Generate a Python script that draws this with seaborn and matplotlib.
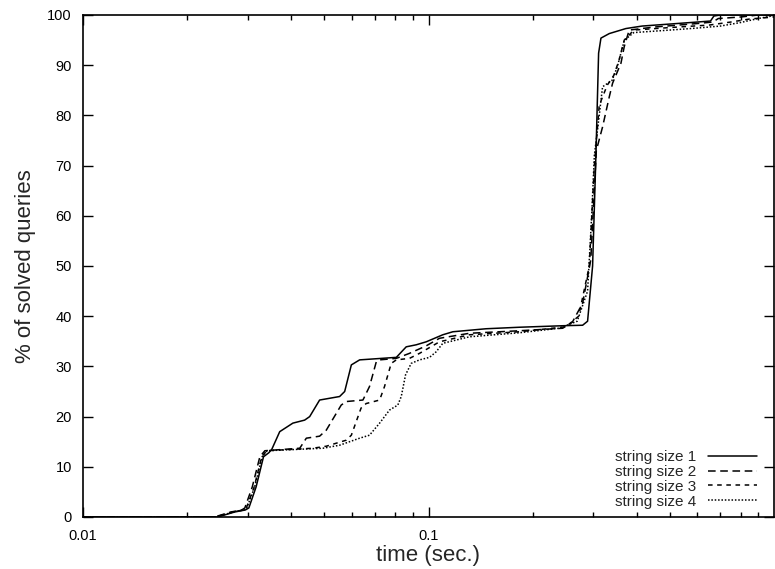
import matplotlib
matplotlib.use("Agg")
import matplotlib.pyplot as plt
import seaborn as sns
import pandas as pd
import numpy as np
from matplotlib.ticker import LogLocator, FixedLocator, NullFormatter, FixedFormatter

# ---- data ----
t1 = [0.010, 0.0245, 0.0275, 0.0295, 0.0302, 0.0317, 0.0333, 0.0345, 0.0352, 0.0371, 0.0405, 0.0438,
      0.0453, 0.0484, 0.0553, 0.0572, 0.0598, 0.0632, 0.0807, 0.0862, 0.0921, 0.0985, 0.110, 0.1176,
      0.1468, 0.1832, 0.2445, 0.2793, 0.2887, 0.2985, 0.3053, 0.3107, 0.3156, 0.3336, 0.3726, 0.4154,
      0.50, 0.60, 0.655, 0.67, 0.70, 1.0]
v1 = [0.0, 0.0, 1.0, 1.4, 1.8, 6.0, 12.0, 12.8, 13.5, 17.0, 18.7, 19.3,
      20.0, 23.3, 24.0, 25.0, 30.3, 31.3, 31.8, 33.9, 34.3, 34.9, 36.3, 36.9,
      37.5, 37.8, 38.1, 38.2, 39.0, 50.0, 72.4, 92.4, 95.4, 96.3, 97.3, 97.8,
      98.2, 98.6, 98.8, 99.8, 100.0, 100.0]

t2 = [0.010, 0.0240, 0.0268, 0.0288, 0.0294, 0.0309, 0.0325, 0.0336, 0.0424, 0.0443, 0.0484, 0.0506,
      0.0559, 0.0578, 0.0646, 0.0675, 0.0706, 0.0722, 0.0807, 0.0881, 0.0985, 0.1076, 0.1314, 0.1832,
      0.2445, 0.2608, 0.2793, 0.2949, 0.306, 0.319, 0.3336, 0.341, 0.3606, 0.3686, 0.381, 0.45,
      0.60, 0.665, 0.69, 0.80, 0.90, 1.0]
v2 = [0.0, 0.0, 1.0, 1.4, 1.8, 6.0, 12.0, 13.2, 13.7, 15.7, 16.1, 17.3,
      22.3, 23.0, 23.3, 26.0, 30.9, 31.3, 31.6, 32.6, 34.1, 35.6, 36.6, 37.1,
      37.6, 38.8, 42.6, 51.2, 73.0, 77.7, 83.7, 86.4, 90.4, 93.7, 97.0, 97.6,
      98.3, 98.6, 99.3, 99.6, 100.0, 100.0]

t3 = [0.010, 0.0242, 0.0271, 0.0291, 0.0297, 0.0313, 0.0329, 0.0340, 0.0463, 0.0506, 0.0578, 0.0598,
      0.0638, 0.0660, 0.0722, 0.0746, 0.0780, 0.0807, 0.0881, 0.0942, 0.1076, 0.1314, 0.1832, 0.250,
      0.272, 0.292, 0.302, 0.312, 0.329, 0.344, 0.356, 0.3686, 0.393, 0.50, 0.65, 0.75, 0.85, 1.0]
v3 = [0.0, 0.0, 1.0, 1.4, 1.8, 6.0, 12.0, 13.2, 13.7, 14.1, 15.3, 16.3,
      21.7, 22.6, 23.3, 26.0, 30.6, 31.3, 31.6, 32.6, 34.9, 36.3, 36.9, 37.9,
      40.0, 50.0, 70.0, 82.0, 86.0, 88.0, 91.0, 95.0, 97.0, 97.5, 98.0, 98.6, 99.2, 99.6]

t4 = [0.010, 0.0243, 0.0272, 0.0292, 0.0298, 0.0314, 0.0330, 0.0341, 0.0495, 0.0553, 0.0632, 0.0675,
      0.0722, 0.0771, 0.0815, 0.0834, 0.0858, 0.0891, 0.0942, 0.1007, 0.1052, 0.110, 0.1314, 0.1832,
      0.2391, 0.2694, 0.2887, 0.2967, 0.302, 0.312, 0.319, 0.340, 0.352, 0.369, 0.393, 0.50,
      0.60, 0.70, 0.80, 0.90, 0.97, 1.0]
v4 = [0.0, 0.0, 1.0, 1.4, 1.8, 6.0, 12.0, 13.2, 13.7, 14.3, 15.7, 16.3,
      18.7, 21.3, 22.3, 24.0, 28.3, 30.6, 31.3, 31.8, 32.9, 34.6, 35.9, 36.7,
      37.6, 39.0, 45.0, 60.0, 72.0, 80.0, 85.7, 87.0, 89.7, 95.0, 96.5, 97.0,
      97.4, 97.8, 98.5, 99.3, 99.7, 100.0]

labels = ["string size 1", "string size 2", "string size 3", "string size 4"]
y_ticks = [0, 10, 20, 30, 40, 50, 60, 70, 80, 90, 100]
x_ticks = [0.01, 0.1]
x_tick_labels = ["0.01", "0.1"]

series = [(t1, v1), (t2, v2), (t3, v3), (t4, v4)]
frames = []
for lab, (t, v) in zip(labels, series):
    frames.append(pd.DataFrame({"time": t, "pct": v, "series": lab}))
df = pd.concat(frames, ignore_index=True)

sns.set_theme(style="ticks")
plt.rcParams['font.family'] = ['Liberation Sans', 'DejaVu Sans']

fig = plt.figure(figsize=(7.75, 5.69), dpi=100)
ax = fig.add_axes([83/775, 1 - 517/569, (774 - 83)/775, (517 - 15)/569])

dashes = {labels[0]: "", labels[1]: (5, 3), labels[2]: (3, 3), labels[3]: (1, 1.2)}
sns.lineplot(data=df, x="time", y="pct", hue="series", style="series",
             palette=["black"] * 4, dashes=dashes, linewidth=1.1,
             estimator=None, sort=False, ax=ax)

ax.set_xscale("log")
ax.set_xlim(0.01, 1.0)
ax.set_ylim(0, 100)

ax.xaxis.set_major_locator(FixedLocator(x_ticks))
ax.xaxis.set_major_formatter(FixedFormatter(x_tick_labels))
ax.xaxis.set_minor_locator(LogLocator(base=10, subs=np.arange(2, 10)))
ax.xaxis.set_minor_formatter(NullFormatter())
ax.set_yticks(y_ticks)
ax.set_yticklabels([str(y) for y in y_ticks])

ax.tick_params(which="both", direction="in", top=True, right=True, colors="black",
               labelsize=10.5, width=1.0)
ax.tick_params(which="major", length=7)
ax.tick_params(axis="y", which="major", pad=8)
ax.tick_params(axis="x", which="major", pad=9)
ax.tick_params(which="minor", length=3.5)
for s in ax.spines.values():
    s.set_linewidth(1.2)
    s.set_color("black")

ax.set_xlabel("time (sec.)", fontsize=16, labelpad=1)
ax.set_ylabel("% of solved queries", fontsize=16, labelpad=8)

leg = ax.legend(loc="lower right", frameon=False, markerfirst=False, fontsize=11,
                handlelength=3.2, labelspacing=0.05, handletextpad=0.8,
                borderaxespad=0.15, bbox_to_anchor=(0.988, 0.0))

fig.savefig("out.png", dpi=100)
